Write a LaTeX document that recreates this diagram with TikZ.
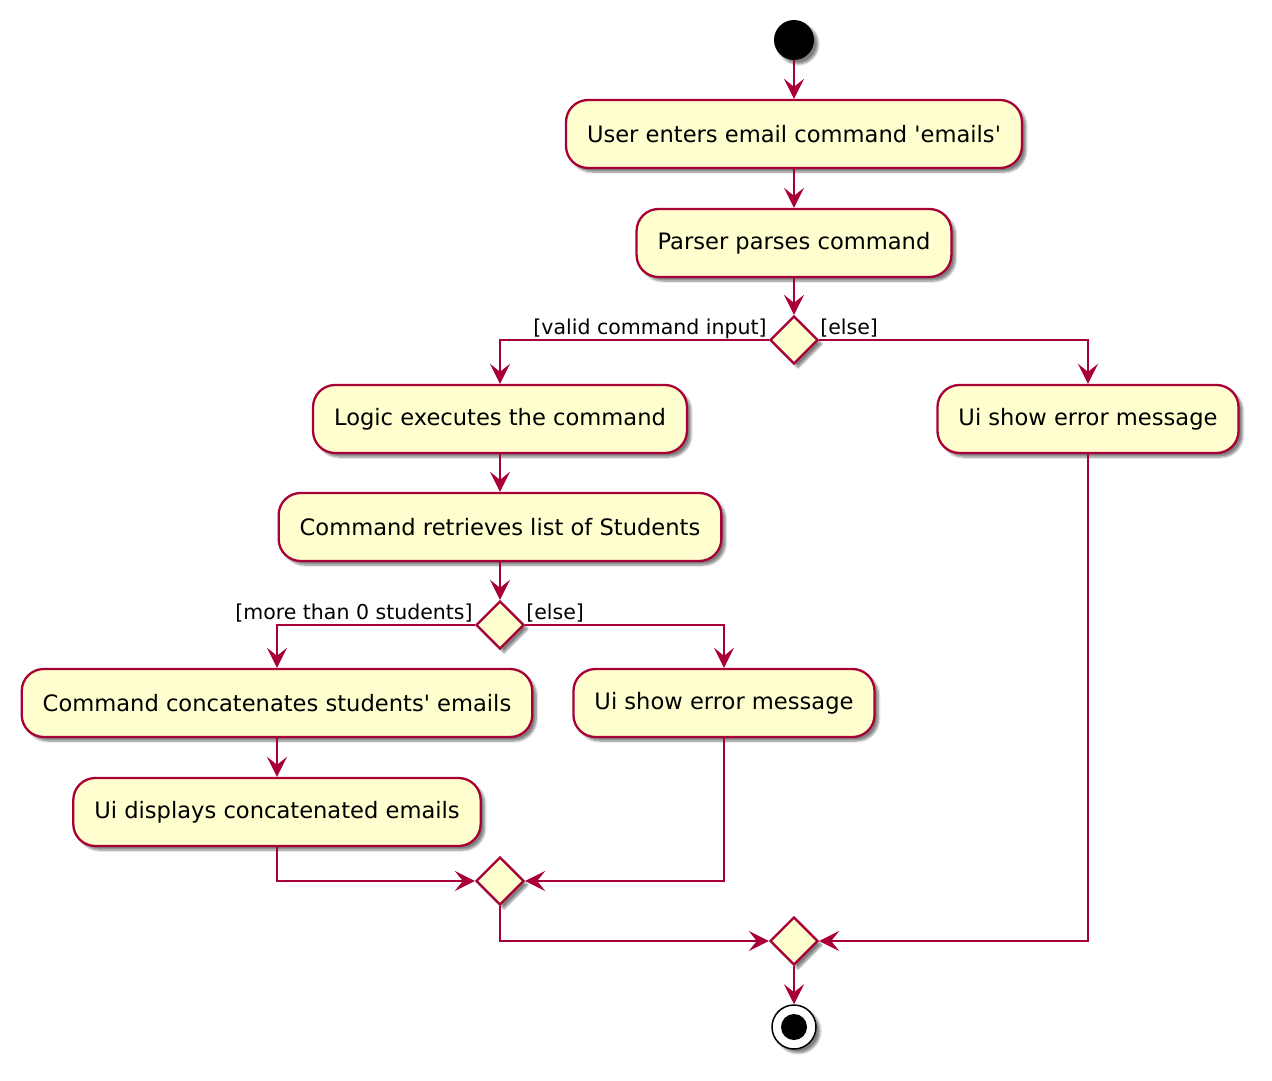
\documentclass[tikz,border=0pt]{standalone}
\usepackage{fontspec}
\setmainfont{DejaVu Sans}[Ligatures=TeXOff]
\usetikzlibrary{arrows.meta,shapes.geometric,shadows.blur,calc}
\definecolor{umlred}{HTML}{A80036}
\definecolor{umlfill}{HTML}{FEFECE}
\tikzset{
  shad/.style={blur shadow={shadow xshift=4pt,shadow yshift=-4pt,shadow blur steps=6,shadow opacity=50}},
  act/.style={shad,draw=umlred,fill=umlfill,line width=2.3pt,rounded corners=22pt,
    minimum height=68pt,inner xsep=21pt,font=\fontsize{22.6}{27}\selectfont},
  dec/.style={shad,diamond,draw=umlred,fill=umlfill,line width=2.3pt,minimum width=48pt,
    minimum height=48pt,inner sep=0pt},
  flow/.style={draw=umlred,line width=2.3pt,-{Stealth[length=20pt,width=20pt,inset=8pt]}},
  guard/.style={font=\fontsize{20.5}{24}\selectfont,inner sep=0pt}
}
\begin{document}
\begin{tikzpicture}[x=1pt,y=-1pt]
\useasboundingbox (0,0) rectangle (1272,1081);
\node[shad,circle,fill=black,minimum size=40pt,inner sep=0pt] (start) at (794,40) {};
\node[act] (a1) at (794,134) {User enters email command 'emails'};
\node[act] (a2) at (794,243) {Parser parses command};
\node[dec] (d1) at (794,340) {};
\node[act] (a3) at (500,419) {Logic executes the command};
\node[act] (a4) at (1088,419) {Ui show error message};
\node[act] (a5) at (500,527) {Command retrieves list of Students};
\node[dec] (d2) at (500,625) {};
\node[act] (a6) at (277,703) {Command concatenates students' emails};
\node[act] (a7) at (724,703) {Ui show error message};
\node[act] (a8) at (277,812) {Ui displays concatenated emails};
\node[dec] (d3) at (500,881) {};
\node[dec] (d4) at (794,941) {};
\node[shad,circle,draw=black,fill=white,line width=1.5pt,minimum size=44pt,inner sep=0pt] (end) at (794,1027) {};
\node[circle,fill=black,minimum size=26pt,inner sep=0pt] (endin) at (end.center) {};

\node[guard,anchor=base east] (g1) at ($(d1.west)+(-2,-6)$) {[valid command input]};
\node[guard,anchor=base west] (g2) at ($(d1.east)+(1,-6)$) {[else]};
\node[guard,anchor=base east] (g3) at ($(d2.west)+(-2,-6)$) {[more than 0 students]};
\node[guard,anchor=base west] (g4) at ($(d2.east)+(1,-6)$) {[else]};

\draw[flow] (start) -- (a1);
\draw[flow] (a1) -- (a2);
\draw[flow] (a2) -- (d1);
\draw[flow] (d1.west) -| (a3.north);
\draw[flow] (d1.east) -| (a4.north);
\draw[flow] (a3) -- (a5);
\draw[flow] (a5) -- (d2);
\draw[flow] (d2.west) -| (a6.north);
\draw[flow] (d2.east) -| (a7.north);
\draw[flow] (a6) -- (a8);
\draw[flow] (a8.south) |- (d3.west);
\draw[flow] (a7.south) |- (d3.east);
\draw[flow] (d3.south) |- (d4.west);
\draw[flow] (a4.south) |- (d4.east);
\draw[flow] (d4) -- (end);
\end{tikzpicture}
\end{document}
